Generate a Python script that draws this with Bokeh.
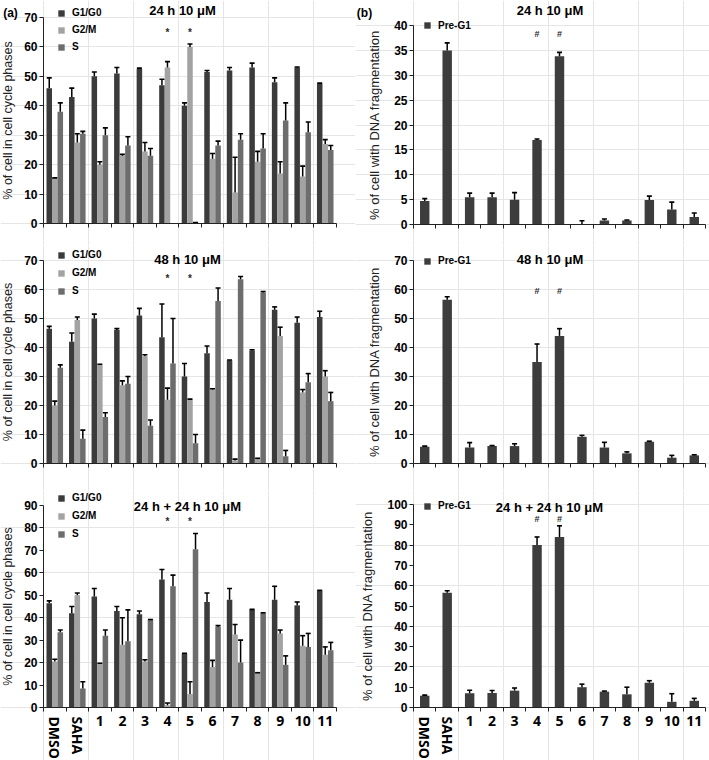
import numpy as np
from bokeh.plotting import figure
from bokeh.layouts import row, column
from bokeh.models import FixedTicker, Label, Legend, LegendItem, LinearAxis, Range1d
from bokeh.embed import file_html
from bokeh.resources import INLINE

groups = ["DMSO", "SAHA", "1", "2", "3", "4", "5", "6", "7", "8", "9", "10", "11"]
nan = float("nan")

# (a) 24 h 10 uM
a1_g1 = [46, 43, 50, 51, 52.5, 47, 40, 51.5, 52, 53, 48, 53, 47.5]
a1_g1e = [3.5, 3, 1.5, 2, 0.3, 2, 1, 0.5, 1, 1.5, 1.5, 0.2, 0.2]
a1_g2 = [15.5, 27.5, 20, 23, 24.5, 53, 60, 22, 10.5, 21, 17, 16, 27]
a1_g2e = [0, 3, 1, 0.5, 3, 2, 1, 1.8, 12, 3.5, 4, 3.5, 1.5]
a1_s = [38, 30.5, 30, 26.5, 23, nan, 0.3, 26.5, 28.5, 25.5, 35, 31, 25]
a1_se = [3, 0.8, 2.5, 3, 2.5, nan, 0, 1.5, 2, 5, 6, 3.5, 1.5]

# (a) 48 h 10 uM
a2_g1 = [46.5, 42, 50, 46, 51, 43.5, 30, 38, 35.5, 39, 53, 48.5, 50.5]
a2_g1e = [0.8, 3, 1.5, 0.5, 2.5, 11.5, 4.5, 2.5, 0.2, 0.2, 1, 2, 2]
a2_g2 = [20, 49.5, 34, 27, 37, 22, 22, 25.5, 1, 1.5, 44, 24.5, 30]
a2_g2e = [1.5, 1, 0.2, 1.5, 0.5, 4, 0.2, 0.3, 0.5, 0.3, 3, 1, 2]
a2_s = [33, 8.5, 16, 27.5, 13, 34.5, 7, 56, 63.5, 59, 2.5, 28, 21.5]
a2_se = [1, 3, 1.5, 2.5, 2, 15.5, 3, 4.5, 1, 0.3, 2, 3, 3]

# (a) 24 h + 24 h 10 uM
a3_g1 = [46.5, 42, 49.5, 43, 41.5, 57, 24, 47, 48, 43.5, 48, 45.5, 52]
a3_g1e = [1, 3, 3.5, 2, 1.5, 4.5, 0.2, 4, 5, 0.2, 6, 1.5, 0.2]
a3_g2 = [20.5, 50, 19.5, 28, 20.5, 1, 6, 18, 32.5, 15.5, 33, 27.5, 23.5]
a3_g2e = [1, 1, 0.2, 12, 0.8, 1, 5.5, 3, 4.5, 0, 1.5, 4.5, 3.5]
a3_s = [33.5, 8.5, 32, 29.5, 39, 54, 70.5, 36, 20, 42, 19, 27, 25.5]
a3_se = [1, 3, 2.5, 14, 0.2, 5, 7, 0.5, 10, 0.2, 4, 6, 3.5]

# (b) Pre-G1
b1_pre = [4.7, 35, 5.5, 5.5, 5, 17, 33.8, 0.05, 0.8, 0.8, 4.9, 3, 1.5]
b1_pree = [0.5, 1.5, 0.8, 0.8, 1.4, 0.2, 0.8, 0.7, 0.3, 0.1, 0.8, 1.5, 0.8]
b2_pre = [5.8, 56.5, 5.5, 6, 6, 35, 44, 9.2, 5.5, 3.5, 7.5, 2, 2.8]
b2_pree = [0.2, 1, 1.7, 0.2, 0.8, 6.2, 2.5, 0.5, 1.8, 0.5, 0.2, 0.8, 0.2]
b3_pre = [5.8, 56.5, 7, 7.2, 8.3, 80, 84, 10, 7.8, 6.5, 12.2, 2.8, 3.3]
b3_pree = [0.3, 1, 1.5, 1.2, 1.3, 4, 5.5, 1.5, 0.3, 3.5, 1, 4, 1.2]

marked = ["4", "5"]

FONT = "Liberation Sans"
C_G1 = "#3b3b3b"
C_G2 = "#a3a3a3"
C_S = "#6d6d6d"
C_PRE = "#3d3d3d"

N = len(groups)


class Geo:
    """Panel geometry in reference pixels: figure box and plot-area box."""
    def __init__(self, W, H, X0, Y0, Wr, Hr, L, R, T, B, ymax):
        self.W, self.H = W, H
        self.X0, self.Y0, self.Wr, self.Hr = X0, Y0, Wr, Hr
        self.L, self.R, self.T, self.B = L, R, T, B
        self.ymax = ymax
        self.sx = W / Wr
        self.sy = H / Hr
        self.kx = N / (R - L)
        self.ky = ymax / (B - T)

    def xd(self, px):
        return (px - self.L) * self.kx

    def yd(self, py):
        return (self.B - py) * self.ky

    def xrange(self):
        return Range1d(self.xd(self.X0), self.xd(self.X0 + self.Wr))

    def yrange(self):
        return Range1d(self.yd(self.Y0 + self.Hr), self.yd(self.Y0))


def base_fig(g, ystep, ylabel, ylabel_size, ylabel_standoff):
    p = figure(width=g.W, height=g.H, x_range=g.xrange(), y_range=g.yrange(),
               output_backend="svg", toolbar_location=None,
               x_axis_location=None, y_axis_location=None, min_border=0)
    p.outline_line_color = None
    p.background_fill_color = "white"
    p.border_fill_color = "white"

    xa = LinearAxis(fixed_location=0, bounds=(0, N))
    xa.ticker = FixedTicker(ticks=list(range(N + 1)))
    xa.major_label_overrides = {i: "" for i in range(N + 1)}
    xa.major_label_text_font_size = "1px"
    xa.major_tick_in = 0
    xa.major_tick_out = 4
    xa.minor_tick_line_color = None
    xa.axis_line_color = "#222222"
    xa.major_tick_line_color = "#222222"
    p.add_layout(xa, "below")

    ya = LinearAxis(fixed_location=0, bounds=(0, g.ymax))
    ya.ticker = FixedTicker(ticks=list(np.arange(0, g.ymax + 0.1, ystep)))
    ya.major_tick_in = 0
    ya.major_tick_out = 4
    ya.minor_tick_line_color = None
    ya.axis_line_color = "#222222"
    ya.major_tick_line_color = "#222222"
    ya.major_label_text_font = FONT
    ya.major_label_text_font_style = "bold"
    ya.major_label_text_font_size = "12px"
    ya.major_label_text_color = "black"
    ya.major_label_standoff = 2
    ya.axis_label = ylabel
    ya.axis_label_text_font = FONT
    ya.axis_label_text_font_style = "normal"
    ya.axis_label_text_font_size = ylabel_size
    ya.axis_label_text_color = "#222222"
    ya.axis_label_standoff = ylabel_standoff
    p.add_layout(ya, "left")
    return p


def errbars(p, xs, vals, errs):
    xs = np.asarray(xs, dtype=float)
    v = np.asarray(vals, dtype=float)
    e = np.asarray(errs, dtype=float)
    m = ~np.isnan(v) & ~np.isnan(e)
    p.segment(x0=xs[m], y0=v[m], x1=xs[m], y1=(v + e)[m], line_color="black", line_width=1.5)
    p.scatter(x=xs[m], y=(v + e)[m], marker="dash", size=5, line_color="black", line_width=1.6)


def add_text(p, g, text, px, py, size, style="bold", color="black", font=FONT,
             align="center", angle=0.0):
    p.add_layout(Label(x=g.xd(px), y=g.yd(py), text=text, text_font=font,
                       text_font_style=style, text_font_size=size, text_align=align,
                       text_baseline="middle", text_color=color, angle=angle))


def add_marks(p, g, sym, py, size):
    for name in marked:
        i = groups.index(name)
        p.add_layout(Label(x=i + 0.5, y=g.yd(py), text=sym, text_font=FONT,
                           text_font_style="bold", text_font_size=size, text_align="center",
                           text_baseline="middle", text_color="#2a2a2a"))


def add_xlabels(p, g, py_num, py_rot):
    for i, name in enumerate(groups):
        if name in ("DMSO", "SAHA"):
            p.add_layout(Label(x=i + 0.5, y=g.yd(py_rot), text=name, angle=-np.pi / 2,
                               text_font="Open Sans", text_font_style="bold",
                               text_font_size="14px", text_align="left",
                               text_baseline="middle", text_color="black"))
        else:
            p.add_layout(Label(x=i + 0.5, y=g.yd(py_num), text=name, text_font="Open Sans",
                               text_font_style="bold", text_font_size="14px",
                               text_align="center", text_baseline="middle",
                               text_color="black"))


def make_legend(g, items, gx, gtop, spacing):
    gh = 8
    n = len(items)
    leg_h = n * gh + (n - 1) * spacing
    loc_x = (gx - g.X0) * g.sx
    loc_y = (g.Y0 + g.Hr - gtop) * g.sy - leg_h
    return Legend(items=items, location=(loc_x, loc_y), orientation="vertical",
                  glyph_width=gh, glyph_height=gh, label_height=gh, label_width=30,
                  spacing=spacing, padding=0, margin=0, label_standoff=7,
                  border_line_color=None, background_fill_alpha=0,
                  label_text_font=FONT, label_text_font_style="bold",
                  label_text_font_size="10px", label_text_color="black")


def panel_a(g, g1, g1e, g2, g2e, s, se, title, title_px, title_py, star_py,
            leg_top, leg_sp, xlabels=None):
    p = base_fig(g, 10, "% of cell in cell cycle phases", "12.5px", 6)
    x = np.arange(N) + 0.5
    bw = 0.245
    rs = []
    for off, vals, col in ((-bw, g1, C_G1), (0.0, g2, C_G2), (bw, s, C_S)):
        v = np.asarray(vals, dtype=float)
        m = ~np.isnan(v)
        rs.append(p.vbar(x=(x + off)[m], top=v[m], width=bw, fill_color=col, line_color=None))
    for off, vals, errs in ((-bw, g1, g1e), (0.0, g2, g2e), (bw, s, se)):
        errbars(p, x + off, vals, errs)
    p.add_layout(make_legend(g, [LegendItem(label="G1/G0", renderers=[rs[0]]),
                                 LegendItem(label="G2/M", renderers=[rs[1]]),
                                 LegendItem(label="S", renderers=[rs[2]])],
                             57, leg_top, leg_sp))
    add_text(p, g, title, title_px, title_py, "13px")
    add_marks(p, g, "*", star_py, "10px")
    if xlabels:
        add_xlabels(p, g, *xlabels)
    return p


def panel_b(g, vals, errs, ystep, title, title_px, title_py, hash_py, leg_top,
            xlabels=None):
    p = base_fig(g, ystep, "% of cell with DNA fragmentation", "13px", 9)
    x = np.arange(N) + 0.5
    r = p.vbar(x=x, top=vals, width=0.42, fill_color=C_PRE, line_color=None)
    errbars(p, x, vals, errs)
    p.add_layout(make_legend(g, [LegendItem(label="Pre-G1", renderers=[r])],
                             423, leg_top, 4))
    add_text(p, g, title, title_px, title_py, "13px")
    add_marks(p, g, "#", hash_py, "9px")
    if xlabels:
        add_xlabels(p, g, *xlabels)
    return p


WL, WR = 355, 354
H1, H2, H3 = 245, 245, 270

g_a1 = Geo(WL, H1, 0, 0, 355, 245, 43, 336, 17, 223, 70)
g_a2 = Geo(WL, H2, 0, 245, 355, 245, 43, 336, 260, 463, 70)
g_a3 = Geo(WL, H3, 0, 490, 355, 270, 43, 336, 505, 707, 90)
g_b1 = Geo(WR, H1, 355, 0, 354, 245, 413, 705, 25, 224, 40)
g_b2 = Geo(WR, H2, 355, 245, 354, 245, 413, 705, 260, 463, 70)
g_b3 = Geo(WR, H3, 355, 490, 354, 270, 413, 705, 504, 707, 100)

a1 = panel_a(g_a1, a1_g1, a1_g1e, a1_g2, a1_g2e, a1_s, a1_se,
             "24 h 10 μM", 182, 10, 32, 16, 6)
add_text(a1, g_a1, "(a)", 10, 12.5, "12px")
a2 = panel_a(g_a2, a2_g1, a2_g1e, a2_g2, a2_g2e, a2_s, a2_se,
             "48 h 10 μM", 187, 259, 278, 258, 7)
a3 = panel_a(g_a3, a3_g1, a3_g1e, a3_g2, a3_g2e, a3_s, a3_se,
             "24 h + 24 h 10 μM", 187, 505.5, 521, 501, 7,
             xlabels=(720, 716))

b1 = panel_b(g_b1, b1_pre, b1_pree, 5, "24 h 10 μM", 549.5, 10, 33, 22.5)
add_text(b1, g_b1, "(b)", 364, 12.5, "12px")
b2 = panel_b(g_b2, b2_pre, b2_pree, 10, "48 h 10 μM", 549.5, 259, 290.7, 258)
b3 = panel_b(g_b3, b3_pre, b3_pree, 10, "24 h + 24 h 10 μM", 549, 507, 518, 503,
             xlabels=(720, 716))

layout = row(column(a1, a2, a3), column(b1, b2, b3))

open("out.html", "w").write(file_html(layout, INLINE))
